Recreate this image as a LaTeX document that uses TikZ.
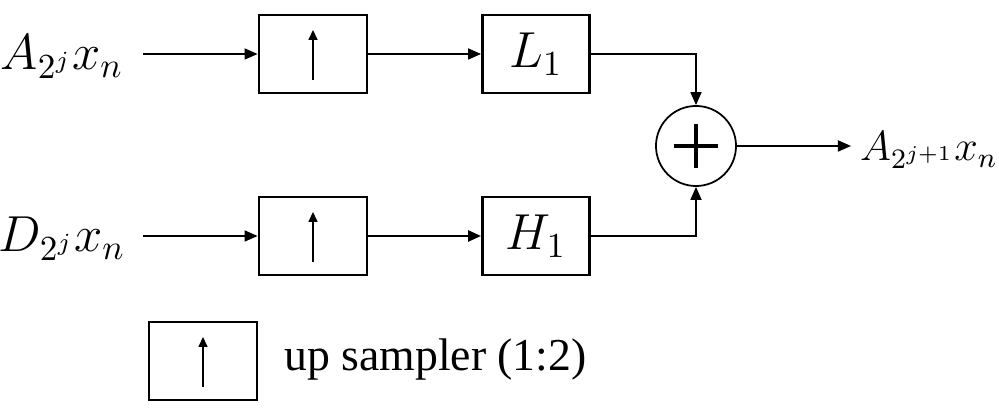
\documentclass[tikz,border=0pt]{standalone}
\usepackage{fontspec}
\setmainfont{Liberation Serif}
\usepackage{tikz}
\usetikzlibrary{arrows.meta}

\tikzset{
  sig/.style={-{Triangle[length=0.13cm,width=0.11cm]}, line width=0.5pt},
  upbox/.style={draw, line width=0.8pt, minimum width=1.08cm, minimum height=0.78cm,
    path picture={\draw[-{Triangle[length=0.1cm,width=0.09cm]}, line width=0.45pt]
      ([yshift=-0.26cm]path picture bounding box.center) -- ++(0,0.5cm);}},
  filtbox/.style={draw, line width=0.8pt, minimum width=1.07cm, minimum height=0.78cm,
    font=\Large},
}

\begin{document}
\begin{tikzpicture}[x=0.01cm, y=-0.01cm, font=\large]
		\useasboundingbox (0,0) rectangle (999,410);

		% inputs
		\node[font=\Large] (ain) at (62,57) {$A_{2^j}x_n$};
		\node[font=\Large] (din) at (62,239) {$D_{2^j}x_n$};
		\coordinate (a0) at (143,54);
		\coordinate (d0) at (143,236);

		% up samplers and filters
		\node[upbox] (up1) at (313,54) {};
		\node[upbox] (up2) at (313,236) {};
		\node[filtbox] (lo) at (536,54) {$L_1$};
		\node[filtbox] (hi) at (536,236) {$H_1$};

		% adder
		\node[draw, circle, line width=0.5pt, minimum size=0.8cm] (sum) at (696,146) {};
		\draw[line width=1.3pt] ([xshift=-0.22cm]sum.center) -- ([xshift=0.22cm]sum.center);
		\draw[line width=1.3pt] ([yshift=-0.22cm]sum.center) -- ([yshift=0.22cm]sum.center);

		% output
		\coordinate (o1) at (851,146);
		\node[anchor=west, inner sep=1pt] (aout) at (856,150) {$A_{2^{j+1}}x_n$};

		% connections
		\draw[sig] (a0) -- (up1.west);
		\draw[sig] (d0) -- (up2.west);
		\draw[sig] (up1.east) -- (lo.west);
		\draw[sig, line width=0.7pt] (up2.east) -- (hi.west);
		\draw[sig] (lo.east) -| (sum.north);
		\draw[sig] (hi.east) -| (sum.south);
		\draw[sig] (sum.east) -- (o1);

		% legend
		\node[upbox] (leg) at (203,361) {};
		\node[anchor=west, font=\fontsize{13}{15}\selectfont] (legtxt) at (272,360) {up sampler (1:2)};
	\end{tikzpicture}
\end{document}
